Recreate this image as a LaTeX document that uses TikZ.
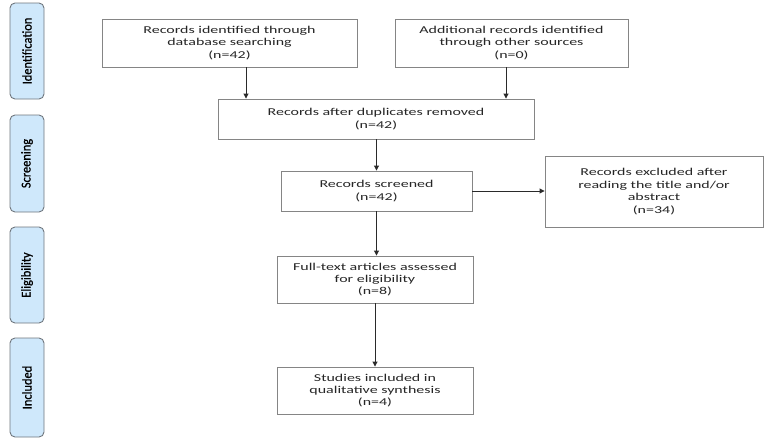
\documentclass[tikz,border=0pt]{standalone}
\usepackage{fontspec}
\setmainfont{Carlito}[FakeStretch=1.52]
\newfontfamily\sidefont{Carlito}[FakeStretch=0.92,FakeBold=0.8]
\usetikzlibrary{arrows.meta}
\definecolor{sidefill}{HTML}{CFE8FB}
\definecolor{sideline}{HTML}{6F767E}
\definecolor{boxline}{HTML}{858585}
\definecolor{arrline}{HTML}{2A2A2A}
\begin{document}
\begin{tikzpicture}[x=1pt,y=-1pt,
  flowbox/.style={draw=boxline,line width=0.9pt,fill=white,align=center,inner sep=0pt,
    font=\fontsize{10.5}{12.4}\selectfont,text=black!85},
  sidebox/.style={draw=sideline,line width=0.9pt,fill=sidefill,rounded corners=5pt,
    minimum width=34pt,inner sep=0pt},
  sidetext/.style={rotate=90,font=\sidefont\fontsize{13.5}{13.5}\selectfont,text=black},
  arr/.style={draw=arrline,line width=0.9pt,-{Triangle[length=5pt,width=5pt]}}]
\useasboundingbox (0,0) rectangle (765,439);
% side labels
\node[sidebox,minimum height=96pt] (s1) at (27,51) {};
\node[sidetext] (t1) at (s1.center) {Identification};
\node[sidebox,minimum height=97pt] (s2) at (27,163.5) {};
\node[sidetext] (t2) at (s2.center) {Screening};
\node[sidebox,minimum height=96pt] (s3) at (27,275) {};
\node[sidetext] (t3) at (s3.center) {Eligibility};
\node[sidebox,minimum height=99pt] (s4) at (27,387.5) {};
\node[sidetext] (t4) at (s4.center) {Included};
% flow boxes
\node[flowbox,minimum width=255pt,minimum height=48pt] (b1) at (229.5,43)
  {Records identified through\\database searching\\(n=42)};
\node[flowbox,minimum width=233pt,minimum height=48pt] (b2) at (511.5,43)
  {Additional records identified\\through other sources\\(n=0)};
\node[flowbox,minimum width=316pt,minimum height=40pt] (b3) at (376,119)
  {Records after duplicates removed\\(n=42)};
\node[flowbox,minimum width=191pt,minimum height=40pt] (b4) at (376.5,191)
  {Records screened\\(n=42)};
\node[flowbox,minimum width=218pt,minimum height=71pt] (b5) at (654,191.5)
  {Records excluded after\\reading the title and/or\\abstract\\(n=34)};
\node[flowbox,minimum width=196pt,minimum height=47pt] (b6) at (375,279.5)
  {Full-text articles assessed\\for eligibility\\(n=8)};
\node[flowbox,minimum width=196pt,minimum height=47pt] (b7) at (375,390.5)
  {Studies included in\\qualitative synthesis\\(n=4)};
% connectors
\draw[arr] ([xshift=16.5pt]b1.south) -- ([xshift=16.5pt]b1.south |- b3.north);
\draw[arr] ([xshift=-5.5pt]b2.south) -- ([xshift=-5.5pt]b2.south |- b3.north);
\draw[arr] (b3.south -| b4.north) -- (b4.north);
\draw[arr] (b4.east) -- (b4.east -| b5.west);
\draw[arr] (b4.south) -- (b4.south |- b6.north);
\draw[arr] (b6.south) -- (b7.north);
\end{tikzpicture}
\end{document}
